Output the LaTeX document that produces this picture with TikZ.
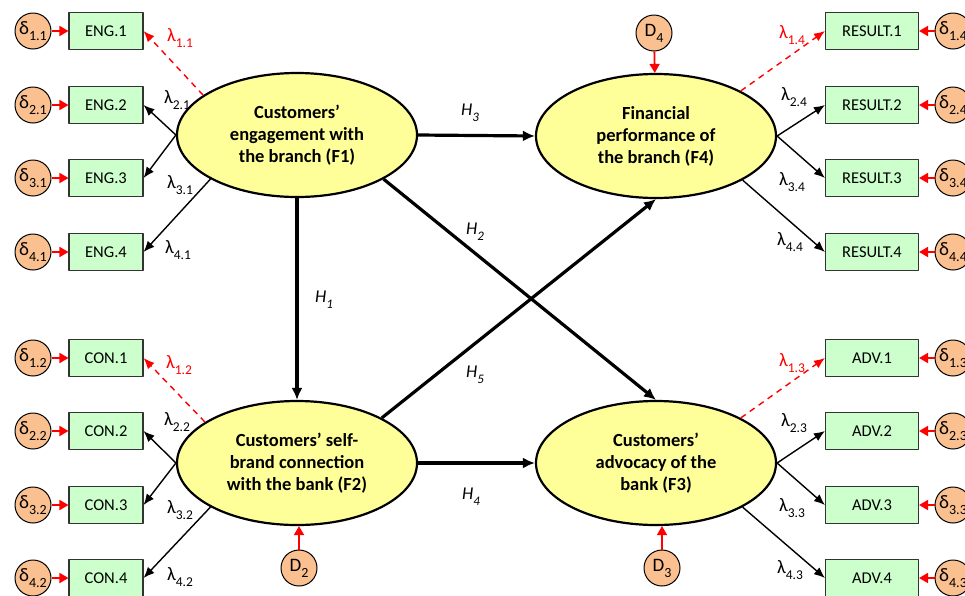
\documentclass[tikz,border=0pt]{standalone}
\usepackage{fontspec}
\setmainfont{Carlito}
\usetikzlibrary{shapes.geometric,arrows.meta}
\definecolor{latfill}{HTML}{FFFF99}
\definecolor{itemfill}{HTML}{CCFFCC}
\definecolor{errfill}{HTML}{FAC090}
\newcommand\losize{13}
\newcommand\lo[1]{\raisebox{-.65ex}{\fontsize{\losize}{\losize}\selectfont #1}}
\tikzset{
  latent/.style={ellipse,draw,line width=2.2pt,fill=latfill,minimum width=240pt,minimum height=124pt,
    inner sep=0pt,align=center,font=\fontsize{18.5}{22}\selectfont\bfseries},
  item/.style={rectangle,draw=black!80,line width=1.1pt,fill=itemfill,minimum width=74pt,minimum height=37pt,
    inner sep=0pt,font=\fontsize{16.5}{18}\selectfont},
  wideitem/.style={item,minimum width=93pt},
  errc/.style={circle,draw,line width=1pt,fill=errfill,minimum size=36pt,inner sep=0pt,
    font=\fontsize{19}{19}\selectfont\def\losize{14}},
  errarr/.style={red,line width=1.8pt,-{Triangle[length=9pt,width=10pt]}},
  load/.style={line width=1.4pt,-{Latex[length=11pt,width=9pt]}},
  fixload/.style={load,red,dash pattern=on 6pt off 5pt},
  hyp/.style={line width=3.2pt,-{Latex[length=12pt,width=11pt]}},
  lam/.style={font=\fontsize{19}{19}\selectfont\def\losize{13.5},inner sep=0pt},
  hlab/.style={font=\fontsize{18}{18}\selectfont\itshape\def\losize{13},inner sep=0pt}
}

\begin{document}
\begin{tikzpicture}[x=1pt,y=-1pt,line join=round]
    \useasboundingbox (0,0) rectangle (965,595);

    % latent factors
    \node[latent] (F1) at (297,135) {Customers’\\engagement with\\the branch (F1)};
    \node[latent] (F2) at (297,463) {Customers’ self-\\brand connection\\with the bank (F2)};
    \node[latent] (F4) at (656,136) {Financial\\performance of\\the branch (F4)};
    \node[latent] (F3) at (656,463) {Customers’\\advocacy of the\\bank (F3)};

    % disturbances
    \node[errc] (D4) at (654,33) {D\lo{4}};
    \node[errc] (D2) at (299,568) {D\lo{2}};
    \node[errc] (D3) at (662,568) {D\lo{3}};
    \draw[errarr] (D4) -- (F4);
    \draw[errarr] (D2.north) -- (D2.north |- F2.south);
    \draw[errarr] (D3.north) -- (D3.north |- F3.south);

    % indicators
    \foreach \i/\y in {1/31, 2/105, 3/178, 4/252}
    {
      \node[item] (eng\i) at (106,\y) {ENG.\i};
      \node[errc] (deng\i) at (33,\y) {δ\lo{\i.1}};
      \draw[errarr] (deng\i) -- (eng\i);
      \node[wideitem] (res\i) at (872,\y) {RESULT.\i};
      \node[errc] (dres\i) at (953,\y) {δ\lo{\i.4}};
      \draw[errarr] (dres\i) -- (res\i);
    }
    \foreach \i/\y in {1/358, 2/431, 3/505, 4/578}
    {
      \node[item] (con\i) at (106,\y) {CON.\i};
      \node[errc] (dcon\i) at (33,\y) {δ\lo{\i.2}};
      \draw[errarr] (dcon\i) -- (con\i);
      \node[wideitem] (adv\i) at (872,\y) {ADV.\i};
      \node[errc] (dadv\i) at (953,\y) {δ\lo{\i.3}};
      \draw[errarr] (dadv\i) -- (adv\i);
    }

    % loadings
    \draw[fixload] (F1.157) -- (eng1.east);
    \draw[load] (F1.west) -- (eng2.east);
    \draw[load] (F1.west) -- (eng3.east);
    \draw[load] (F1.207) -- (eng4.east);
    \draw[fixload] (F2.156) -- (con1.east);
    \draw[load] (F2.west) -- (con2.east);
    \draw[load] (F2.west) -- (con3.east);
    \draw[load] (F2.207) -- (con4.east);
    \draw[fixload] (F4.28) -- (res1.west);
    \draw[load] (F4.east) -- (res2.west);
    \draw[load] (F4.east) -- (res3.west);
    \draw[load] (F4.-27) -- (res4.west);
    \draw[fixload] (F3.28) -- (adv1.west);
    \draw[load] (F3.east) -- (adv2.west);
    \draw[load] (F3.east) -- (adv3.west);
    \draw[load] (F3.-27) -- (adv4.west);

    \node[lam,red] (l11) at (180,38) {λ\lo{1.1}};
    \node[lam] (l21) at (177,100) {λ\lo{2.1}};
    \node[lam] (l31) at (180,185) {λ\lo{3.1}};
    \node[lam] (l41) at (178,250) {λ\lo{4.1}};
    \node[lam,red] (l12) at (179,365) {λ\lo{1.2}};
    \node[lam] (l22) at (177,422) {λ\lo{2.2}};
    \node[lam] (l32) at (180,510) {λ\lo{3.2}};
    \node[lam] (l42) at (180,577) {λ\lo{4.2}};
    \node[lam,red] (l14) at (792,35) {λ\lo{1.4}};
    \node[lam] (l24) at (794,97) {λ\lo{2.4}};
    \node[lam] (l34) at (792,182) {λ\lo{3.4}};
    \node[lam] (l44) at (790,242) {λ\lo{4.4}};
    \node[lam,red] (l13) at (792,363) {λ\lo{1.3}};
    \node[lam] (l23) at (794,423) {λ\lo{2.3}};
    \node[lam] (l33) at (792,508) {λ\lo{3.3}};
    \node[lam] (l43) at (790,570) {λ\lo{4.3}};

    % hypotheses
    \draw[hyp] (F1.east) -- (F4.west);
    \draw[hyp] (F1.south) -- (F2.north);
    \draw[hyp] (F1.-27) -- (F3.north);
    \draw[hyp] (F2.28) -- (F4.south);
    \draw[hyp] (F2.east) -- (F3.west);
    \node[hlab] (h3) at (470,113) {H\lo{3}};
    \node[hlab] (h1) at (324,300) {H\lo{1}};
    \node[hlab] (h2) at (475,232) {H\lo{2}};
    \node[hlab] (h5) at (475,375) {H\lo{5}};
    \node[hlab] (h4) at (471,497) {H\lo{4}};
\end{tikzpicture}
\end{document}
